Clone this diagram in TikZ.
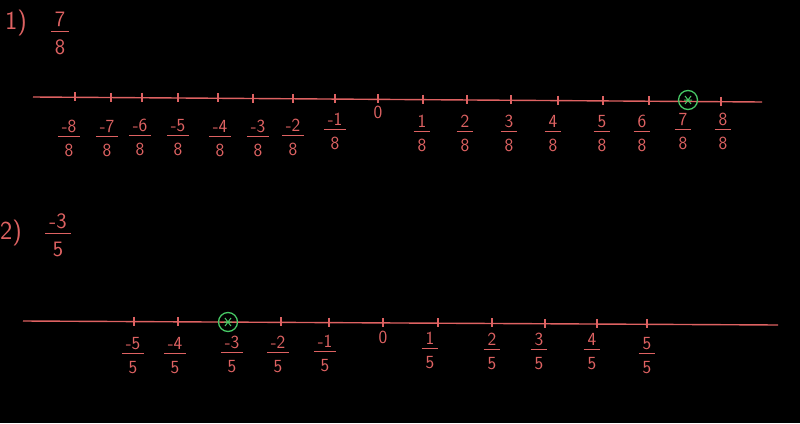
\documentclass[tikz,border=0pt]{standalone}
\definecolor{ink}{RGB}{222,98,98}
\definecolor{gmark}{RGB}{70,200,100}
\newcommand\fr[2]{\begin{tabular}{@{\hspace{4pt}}c@{\hspace{4pt}}}#1\\[-2pt]\hline\rule{0pt}{1.05em}#2\end{tabular}}
\tikzset{
  numline/.style={draw=ink,line width=1.4pt},
  tickmark/.style={draw=ink,line width=1.1pt},
  lab/.style={text=ink,font=\sffamily\fontsize{18.5}{18.5}\selectfont,inner sep=0pt},
  biglab/.style={text=ink,font=\sffamily\fontsize{22}{22}\selectfont,inner sep=0pt},
  title/.style={text=ink,font=\sffamily\fontsize{26}{26}\selectfont,inner sep=0pt},
  pick/.style={circle,draw=gmark,line width=1.3pt,minimum size=19pt,inner sep=0pt},
  star/.style={draw=gmark,line width=1pt},
}
\begin{document}
\begin{tikzpicture}[x=1pt,y=-1pt]
\fill[black] (0,0) rectangle (800,423);
\useasboundingbox (0,0) rectangle (800,423);
\arrayrulewidth=1pt
% ---------- problem 1 ----------
\node[title] (t1) at (16,23) {1)};
\node[biglab] (q1) at (60,36) {\fr{7}{8}};
\coordinate (a1) at (33,97);
\coordinate (b1) at (762,102);
\draw[numline] (a1) -- (b1);
\foreach \x in {75,111,142,178,218,253,293,335,378,423,467,511,558,603,649,721}{
  \pgfmathsetmacro\p{(\x-33)/729}
  \path (a1) -- (b1) coordinate[pos=\p] (tk);
  \draw[tickmark] ([yshift=5pt]tk) -- ([yshift=-4pt]tk);
}
\node[pick] (c1) at (688,100) {};
\draw[star] ([shift={(-3,-4)}]c1.center) -- ([shift={(3,4)}]c1.center)
  ([shift={(3,-4)}]c1.center) -- ([shift={(-3,4)}]c1.center)
  ([shift={(-4,0)}]c1.center) -- ([shift={(4,0)}]c1.center);
\node[lab] (z1) at (378,112) {0};
\node[lab] (m8) at (69,141) {\fr{-8}{8}};
\node[lab] (m7) at (107,141) {\fr{-7}{8}};
\node[lab] (m6) at (140,140) {\fr{-6}{8}};
\node[lab] (m5) at (178,140) {\fr{-5}{8}};
\node[lab] (m4) at (220,141) {\fr{-4}{8}};
\node[lab] (m3) at (258,141) {\fr{-3}{8}};
\node[lab] (m2) at (293,140) {\fr{-2}{8}};
\node[lab] (m1) at (335,134) {\fr{-1}{8}};
\node[lab] (p1) at (422,136) {\fr{1}{8}};
\node[lab] (p2) at (465,136) {\fr{2}{8}};
\node[lab] (p3) at (509,136) {\fr{3}{8}};
\node[lab] (p4) at (553,136) {\fr{4}{8}};
\node[lab] (p5) at (602,136) {\fr{5}{8}};
\node[lab] (p6) at (642,136) {\fr{6}{8}};
\node[lab] (p7) at (683,134) {\fr{7}{8}};
\node[lab] (p8) at (723,134) {\fr{8}{8}};
% ---------- problem 2 ----------
\node[title] (t2) at (11,233) {2)};
\node[biglab] (q2) at (58,238) {\fr{-3}{5}};
\coordinate (a2) at (23,321);
\coordinate (b2) at (778,325);
\draw[numline] (a2) -- (b2);
\foreach \x in {134,178,281,329,383,438,492,545,597,647}{
  \pgfmathsetmacro\p{(\x-23)/755}
  \path (a2) -- (b2) coordinate[pos=\p] (tk);
  \draw[tickmark] ([yshift=5pt]tk) -- ([yshift=-4pt]tk);
}
\node[pick] (c2) at (228,322) {};
\draw[star] ([shift={(-3,-4)}]c2.center) -- ([shift={(3,4)}]c2.center)
  ([shift={(3,-4)}]c2.center) -- ([shift={(-3,4)}]c2.center)
  ([shift={(-4,0)}]c2.center) -- ([shift={(4,0)}]c2.center);
\node[lab] (z2) at (383,337) {0};
\node[lab] (n5) at (133,358) {\fr{-5}{5}};
\node[lab] (n4) at (175,358) {\fr{-4}{5}};
\node[lab] (n3) at (232,357) {\fr{-3}{5}};
\node[lab] (n2) at (278,357) {\fr{-2}{5}};
\node[lab] (n1) at (325,356) {\fr{-1}{5}};
\node[lab] (s1) at (430,353) {\fr{1}{5}};
\node[lab] (s2) at (492,354) {\fr{2}{5}};
\node[lab] (s3) at (539,354) {\fr{3}{5}};
\node[lab] (s4) at (592,354) {\fr{4}{5}};
\node[lab] (s5) at (647,358) {\fr{5}{5}};
\end{tikzpicture}
\end{document}
